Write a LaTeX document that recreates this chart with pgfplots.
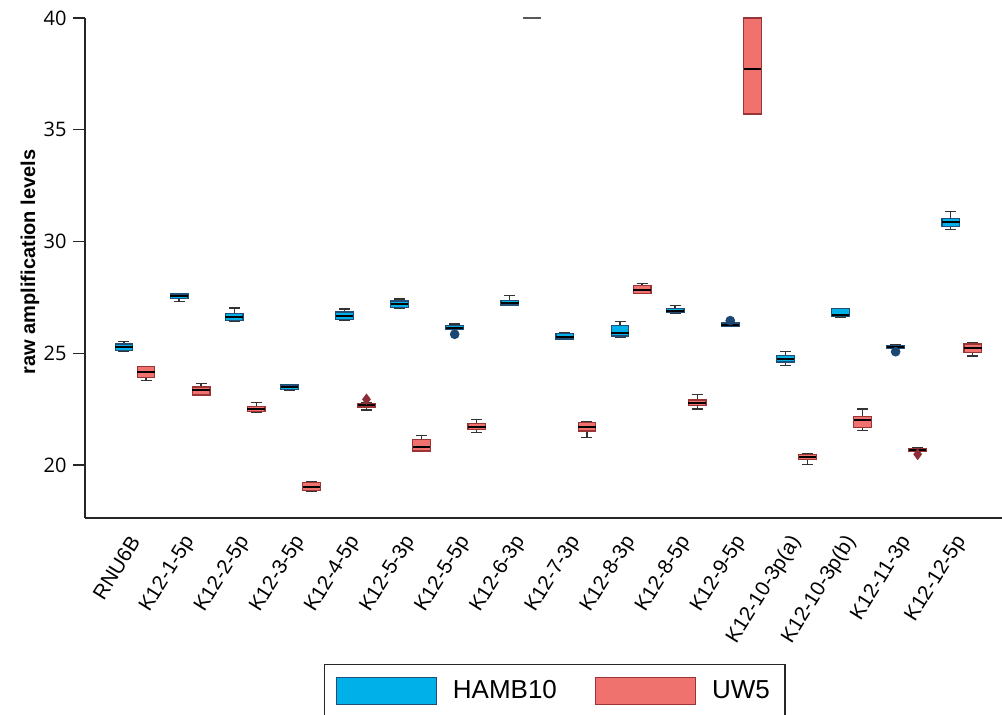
\documentclass[border=0pt]{standalone}
\usepackage{fontspec}
\setmainfont{Liberation Sans}
\newfontfamily\tickfont{Open Sans}
\usepackage{pgfplots}
\pgfplotsset{compat=1.18}
\usepgfplotslibrary{statistics}
\definecolor{hambfill}{RGB}{0,176,232}
\definecolor{hambedge}{RGB}{31,78,121}
\definecolor{uwfill}{RGB}{240,114,110}
\definecolor{uwedge}{RGB}{155,53,53}
\definecolor{hambout}{RGB}{28,70,115}
\definecolor{uwout}{RGB}{140,45,55}
\pgfplotsset{
  hamb/.style={
    boxplot/draw direction=y,
    boxplot/box extend=0.32, boxplot/whisker extend=0.2,
    boxplot/every box/.style={draw=hambedge, fill=hambfill, line width=0.6pt},
    boxplot/every whisker/.style={draw=black!80, line width=0.7pt},
    boxplot/every median/.style={draw=black, line width=1pt},
    legend image code/.code={\draw[draw=hambedge, fill=hambfill, line width=0.6pt] (0pt,-6.75pt) rectangle (50pt,6.75pt);}
  },
  uw/.style={
    boxplot/draw direction=y,
    boxplot/box extend=0.32, boxplot/whisker extend=0.2,
    boxplot/every box/.style={draw=uwedge, fill=uwfill, line width=0.6pt},
    boxplot/every whisker/.style={draw=black!80, line width=0.7pt},
    boxplot/every median/.style={draw=black, line width=1pt},
    legend image code/.code={\draw[draw=uwedge, fill=uwfill, line width=0.6pt] (0pt,-6.75pt) rectangle (50pt,6.75pt);}
  },
}
\begin{document}
\begin{tikzpicture}
\useasboundingbox (0,0) rectangle (501pt,357.5pt);
\begin{axis}[
  at={(42.5pt,98.5pt)}, anchor=south west,
  scale only axis, width=458.5pt, height=250pt,
  xmin=-0.907, xmax=15.73, ymin=17.63, ymax=40,
  clip=false,
  axis x line*=bottom, axis y line*=left,
  axis line style={black!85, line width=0.7pt},
  tick align=outside,
  xtick={0,...,15},
  xticklabels={RNU6B,K12-1-5p,K12-2-5p,K12-3-5p,K12-4-5p,K12-5-3p,K12-5-5p,K12-6-3p,K12-7-3p,K12-8-3p,K12-8-5p,K12-9-5p,K12-10-3p(a),K12-10-3p(b),K12-11-3p,K12-12-5p},
  x tick style={draw=none},
  xticklabel style={font=\fontsize{10.3}{12}\selectfont, rotate=58, anchor=east, inner sep=0pt},
  xticklabel shift=4pt,
  ytick={20,25,30,35,40},
  y tick style={black!85, line width=0.7pt},
  major tick length=6pt,
  yticklabel style={font=\tickfont\fontsize{10}{12}\selectfont, inner sep=0pt, xshift=-3pt},
  /pgf/number format/assume math mode=true,
  ylabel={raw amplification levels},
  every axis y label/.style={at={(axis description cs:-0.06,0.512)}, rotate=90, anchor=center, font=\bfseries\fontsize{10}{12}\selectfont},
  legend columns=2,
  legend style={at={(axis description cs:0,0)}, anchor=north west, xshift=119.5pt, yshift=-73pt,
    draw=black!85, line width=0.7pt, font=\fontsize{13}{15}\selectfont,
    inner xsep=5.5pt, inner ysep=6pt,
    /tikz/every odd column/.append style={column sep=6pt},
    /tikz/every even column/.append style={column sep=17pt}},
  legend cell align=left,
]
% HAMB10
\addplot+[hamb, boxplot prepared={draw position=-0.2, lower whisker=25.08, lower quartile=25.11, median=25.29, upper quartile=25.41, upper whisker=25.52}] coordinates {};
\addlegendentry{HAMB10}
\addplot+[uw, boxplot prepared={draw position=0.2, lower whisker=23.77, lower quartile=23.92, median=24.15, upper quartile=24.40, upper whisker=24.42}] coordinates {};
\addlegendentry{UW5}
\addplot+[hamb, forget plot, boxplot prepared={draw position=0.8, lower whisker=27.32, lower quartile=27.46, median=27.58, upper quartile=27.65, upper whisker=27.67}] coordinates {};
\addplot+[uw, forget plot, boxplot prepared={draw position=1.2, lower whisker=23.12, lower quartile=23.13, median=23.34, upper quartile=23.49, upper whisker=23.66}] coordinates {};
\addplot+[hamb, forget plot, boxplot prepared={draw position=1.8, lower whisker=26.45, lower quartile=26.46, median=26.61, upper quartile=26.79, upper whisker=27.02}] coordinates {};
\addplot+[uw, forget plot, boxplot prepared={draw position=2.2, lower whisker=22.38, lower quartile=22.39, median=22.51, upper quartile=22.61, upper whisker=22.79}] coordinates {};
\addplot+[hamb, forget plot, boxplot prepared={draw position=2.8, lower whisker=23.36, lower quartile=23.37, median=23.48, upper quartile=23.58, upper whisker=23.59}] coordinates {};
\addplot+[uw, forget plot, boxplot prepared={draw position=3.2, lower whisker=18.84, lower quartile=18.85, median=19.03, upper quartile=19.23, upper whisker=19.24}] coordinates {};
\addplot+[hamb, forget plot, boxplot prepared={draw position=3.8, lower whisker=26.49, lower quartile=26.50, median=26.67, upper quartile=26.85, upper whisker=26.98}] coordinates {};
\addplot+[uw, forget plot, boxplot prepared={draw position=4.2, lower whisker=22.46, lower quartile=22.60, median=22.67, upper quartile=22.76, upper whisker=22.77}] coordinates {};
\addplot+[hamb, forget plot, boxplot prepared={draw position=4.8, lower whisker=27.00, lower quartile=27.06, median=27.19, upper quartile=27.34, upper whisker=27.43}] coordinates {};
\addplot+[uw, forget plot, boxplot prepared={draw position=5.2, lower whisker=20.62, lower quartile=20.63, median=20.82, upper quartile=21.15, upper whisker=21.31}] coordinates {};
\addplot+[hamb, forget plot, boxplot prepared={draw position=5.8, lower whisker=26.06, lower quartile=26.07, median=26.14, upper quartile=26.25, upper whisker=26.31}] coordinates {};
\addplot+[uw, forget plot, boxplot prepared={draw position=6.2, lower whisker=21.45, lower quartile=21.58, median=21.71, upper quartile=21.85, upper whisker=22.03}] coordinates {};
\addplot+[hamb, forget plot, boxplot prepared={draw position=6.8, lower whisker=27.14, lower quartile=27.16, median=27.25, upper quartile=27.35, upper whisker=27.58}] coordinates {};
\addplot+[uw, forget plot, boxplot/every median/.style={draw=black!65, line width=1pt}, boxplot/every box/.style={draw=black!65, line width=0.8pt}, boxplot prepared={draw position=7.2, lower whisker=40, lower quartile=40, median=40, upper quartile=40, upper whisker=40}] coordinates {};
\addplot+[hamb, forget plot, boxplot prepared={draw position=7.8, lower whisker=25.63, lower quartile=25.64, median=25.74, upper quartile=25.89, upper whisker=25.94}] coordinates {};
\addplot+[uw, forget plot, boxplot prepared={draw position=8.2, lower whisker=21.24, lower quartile=21.52, median=21.71, upper quartile=21.89, upper whisker=21.94}] coordinates {};
\addplot+[hamb, forget plot, boxplot prepared={draw position=8.8, lower whisker=25.71, lower quartile=25.77, median=25.92, upper quartile=26.23, upper whisker=26.43}] coordinates {};
\addplot+[uw, forget plot, boxplot prepared={draw position=9.2, lower whisker=27.67, lower quartile=27.68, median=27.82, upper quartile=28.02, upper whisker=28.13}] coordinates {};
\addplot+[hamb, forget plot, boxplot prepared={draw position=9.8, lower whisker=26.81, lower quartile=26.82, median=26.90, upper quartile=27.01, upper whisker=27.14}] coordinates {};
\addplot+[uw, forget plot, boxplot prepared={draw position=10.2, lower whisker=22.51, lower quartile=22.65, median=22.79, upper quartile=22.91, upper whisker=23.15}] coordinates {};
\addplot+[hamb, forget plot, boxplot prepared={draw position=10.8, lower whisker=26.19, lower quartile=26.22, median=26.28, upper quartile=26.35, upper whisker=26.36}] coordinates {};
\addplot+[uw, forget plot, boxplot prepared={draw position=11.2, lower whisker=35.70, lower quartile=35.70, median=37.72, upper quartile=40, upper whisker=40}] coordinates {};
\addplot+[hamb, forget plot, boxplot prepared={draw position=11.8, lower whisker=24.44, lower quartile=24.61, median=24.74, upper quartile=24.91, upper whisker=25.07}] coordinates {};
\addplot+[uw, forget plot, boxplot prepared={draw position=12.2, lower whisker=20.03, lower quartile=20.25, median=20.37, upper quartile=20.48, upper whisker=20.49}] coordinates {};
\addplot+[hamb, forget plot, boxplot prepared={draw position=12.8, lower whisker=26.63, lower quartile=26.64, median=26.71, upper quartile=26.99, upper whisker=27.00}] coordinates {};
\addplot+[uw, forget plot, boxplot prepared={draw position=13.2, lower whisker=21.54, lower quartile=21.69, median=22.03, upper quartile=22.18, upper whisker=22.51}] coordinates {};
\addplot+[hamb, forget plot, boxplot prepared={draw position=13.8, lower whisker=25.21, lower quartile=25.22, median=25.27, upper quartile=25.36, upper whisker=25.40}] coordinates {};
\addplot+[uw, forget plot, boxplot prepared={draw position=14.2, lower whisker=20.62, lower quartile=20.63, median=20.67, upper quartile=20.75, upper whisker=20.76}] coordinates {};
\addplot+[hamb, forget plot, boxplot prepared={draw position=14.8, lower whisker=30.53, lower quartile=30.66, median=30.87, upper quartile=31.04, upper whisker=31.35}] coordinates {};
\addplot+[uw, forget plot, boxplot prepared={draw position=15.2, lower whisker=24.88, lower quartile=25.04, median=25.22, upper quartile=25.41, upper whisker=25.49}] coordinates {};
% outliers
\addplot[forget plot, only marks, mark=*, mark size=2.2pt, mark options={draw=hambout, fill=hambout}] coordinates {(5.8,25.85) (10.8,26.46) (13.8,25.07)};
\addplot[forget plot, only marks, mark=diamond*, mark size=2.6pt, mark options={draw=uwout, fill=uwout}] coordinates {(4.2,22.94) (14.2,20.48)};
\end{axis}
\end{tikzpicture}
\end{document}
